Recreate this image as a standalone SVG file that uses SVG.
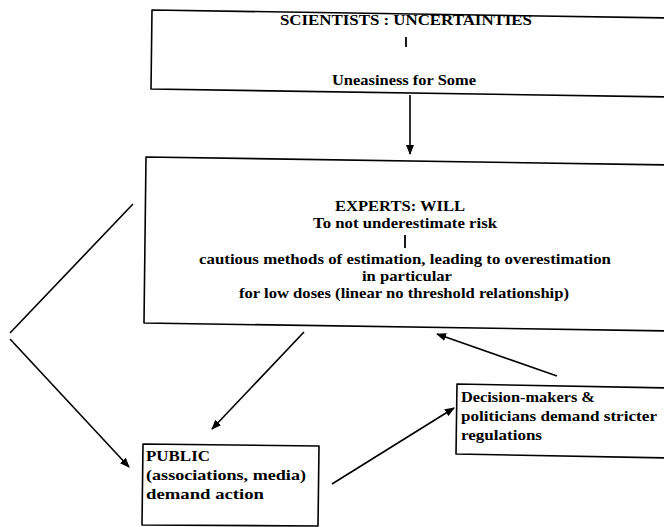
<svg xmlns="http://www.w3.org/2000/svg" width="664" height="527" viewBox="0 0 664 527">
<style>
  .box { fill: none; stroke: #000; stroke-width: 1.6; stroke-linejoin: round; }
  .t { font-family: "Liberation Serif", "Times New Roman", serif; font-weight: bold; font-size: 15px; fill: #000; }
  .c { text-anchor: middle; }
  .tick { stroke: #000; stroke-width: 1.8; }
  .conn line { stroke: #000; stroke-width: 1.6; }
</style>
<defs>
  <marker id="ah" markerWidth="10" markerHeight="8" refX="9" refY="4" orient="auto" markerUnits="userSpaceOnUse">
    <path d="M0,0 L10,4 L0,8 Z" fill="#000"/>
  </marker>
</defs>
<rect width="664" height="527" fill="#fff"/>
<g id="scientists">
  <path class="box" d="M672,18 L152,10 L151,89 L672,97"/>
  <text class="t c" x="406" y="25" textLength="252" lengthAdjust="spacingAndGlyphs">SCIENTISTS : UNCERTAINTIES</text>
  <line class="tick" x1="406" y1="37" x2="406" y2="47"/>
  <text class="t c" x="404" y="85" textLength="144" lengthAdjust="spacingAndGlyphs">Uneasiness for Some</text>
</g>
<g id="experts">
  <path class="box" d="M672,165 L146,157 L144,323 L672,331"/>
  <text class="t c" x="400" y="211" textLength="130" lengthAdjust="spacingAndGlyphs">EXPERTS: WILL</text>
  <text class="t c" x="405" y="228" textLength="184" lengthAdjust="spacingAndGlyphs">To not underestimate risk</text>
  <line class="tick" x1="405" y1="235" x2="405" y2="248"/>
  <text class="t c" x="405" y="264" textLength="412" lengthAdjust="spacingAndGlyphs">cautious methods of estimation, leading to overestimation</text>
  <text class="t c" x="407" y="281" textLength="90" lengthAdjust="spacingAndGlyphs">in particular</text>
  <text class="t c" x="404" y="298" textLength="330" lengthAdjust="spacingAndGlyphs">for low doses (linear no threshold relationship)</text>
</g>
<g id="public">
  <path class="box" d="M143,444 L319,446 L318,526 L142,525 Z"/>
  <text class="t" x="146" y="461" textLength="64" lengthAdjust="spacingAndGlyphs">PUBLIC</text>
  <text class="t" x="146" y="480" textLength="160" lengthAdjust="spacingAndGlyphs">(associations, media)</text>
  <text class="t" x="146" y="499" textLength="118" lengthAdjust="spacingAndGlyphs">demand action</text>
</g>
<g id="decision">
  <path class="box" d="M672,388 L457,384 L456,454 L672,458"/>
  <text class="t" x="461" y="402" textLength="134" lengthAdjust="spacingAndGlyphs">Decision-makers &amp;</text>
  <text class="t" x="461" y="421" textLength="196" lengthAdjust="spacingAndGlyphs">politicians demand stricter</text>
  <text class="t" x="461" y="440" textLength="81" lengthAdjust="spacingAndGlyphs">regulations</text>
</g>
<g class="conn" id="connectors">
  <line x1="410" y1="95" x2="410" y2="154" marker-end="url(#ah)"/>
  <line x1="133" y1="204" x2="10" y2="333"/>
  <line x1="10" y1="339" x2="129" y2="467" marker-end="url(#ah)"/>
  <line x1="304" y1="332" x2="212" y2="429" marker-end="url(#ah)"/>
  <line x1="332" y1="484" x2="454" y2="408" marker-end="url(#ah)"/>
  <line x1="557" y1="376" x2="437" y2="334" marker-end="url(#ah)"/>
</g>
</svg>
